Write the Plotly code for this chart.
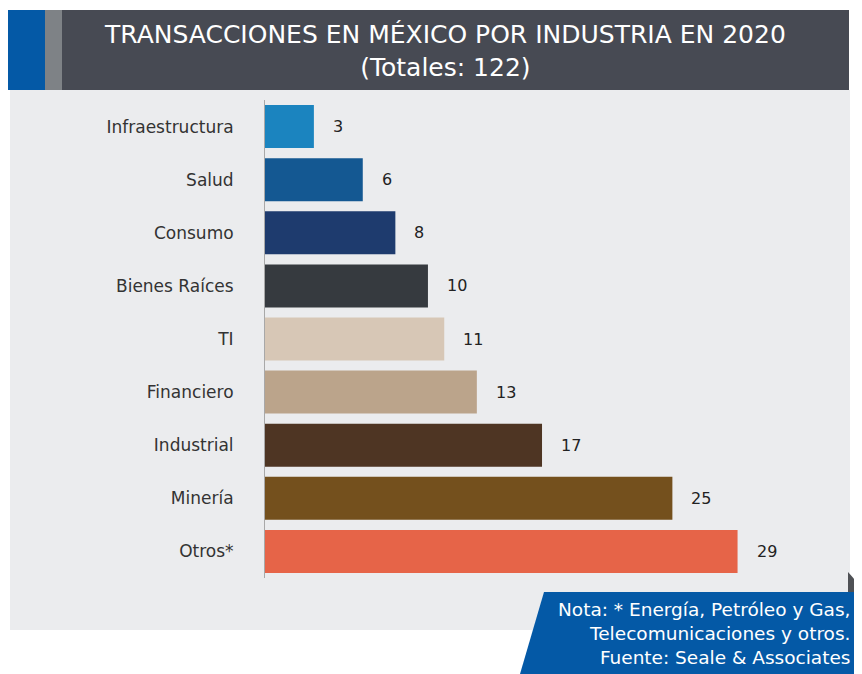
import plotly.graph_objects as go

categories = ["Infraestructura", "Salud", "Consumo", "Bienes Raíces", "TI",
              "Financiero", "Industrial", "Minería", "Otros*"]
values = [3, 6, 8, 10, 11, 13, 17, 25, 29]
colors = ["#1B84BF", "#145892", "#1E3B6E", "#363A3F", "#D7C7B6",
          "#BBA48B", "#4E3523", "#74501D", "#E66448"]
title_lines = ["TRANSACCIONES EN MÉXICO POR INDUSTRIA EN 2020", "(Totales: 122)"]
note_lines = ["Nota: * Energía, Petróleo y Gas,", "Telecomunicaciones y otros.",
              "Fuente: Seale & Associates"]

# page body has an 8px margin: figure origin sits at (8, 8) of the window
OFF = 8
W, H = 862 - OFF, 674 - OFF
FONT = "DejaVu Sans"


def px(x):
    return (x - OFF) / W


def py(y):
    return 1 - (y - OFF) / H


fig = go.Figure()
fig.add_trace(go.Bar(
    x=values, y=categories, orientation="h",
    marker=dict(color=colors, line=dict(width=0)),
    hoverinfo="x+y",
))

shapes = [
    dict(type="rect", xref="paper", yref="paper", x0=px(10), x1=px(850), y0=py(630), y1=py(90),
         fillcolor="#EBECEE", line=dict(width=0), layer="below"),
    dict(type="rect", xref="paper", yref="paper", x0=px(8), x1=px(45), y0=py(90), y1=py(10),
         fillcolor="#0459A6", line=dict(width=0)),
    dict(type="rect", xref="paper", yref="paper", x0=px(45), x1=px(62), y0=py(90), y1=py(10),
         fillcolor="#7E8286", line=dict(width=0)),
    dict(type="rect", xref="paper", yref="paper", x0=px(62), x1=px(849), y0=py(90), y1=py(10),
         fillcolor="#474A53", line=dict(width=0)),
    dict(type="path", xref="paper", yref="paper",
         path=f"M {px(848)},{py(572)} L {px(862)},{py(588)} L {px(862)},{py(594)} L {px(848)},{py(594)} Z",
         fillcolor="#4F5155", line=dict(width=0)),
    dict(type="path", xref="paper", yref="paper",
         path=f"M {px(544)},{py(592)} L {px(862)},{py(592)} L {px(862)},{py(674)} L {px(520)},{py(674)} Z",
         fillcolor="#0459A6", line=dict(width=0)),
]

annotations = [
    dict(text=title_lines[0] + "<br>" + title_lines[1], xref="paper", yref="paper",
         x=px(445), y=py(51), xanchor="center", yanchor="middle", showarrow=False,
         font=dict(family=FONT, size=25, color="#FFFFFF")),
    dict(text="<br>".join(note_lines), xref="paper", yref="paper", align="right",
         x=px(852), y=py(633), xanchor="right", yanchor="middle", showarrow=False,
         font=dict(family=FONT, size=18.5, color="#FFFFFF")),
]
for c, v in zip(categories, values):
    annotations.append(dict(x=v, y=c, xref="x", yref="y", text=str(v), showarrow=False,
                            xanchor="left", yanchor="middle", xshift=17,
                            font=dict(family=FONT, size=16, color="#222222")))

fig.update_layout(
    width=W, height=H,
    margin=dict(l=0, r=0, t=0, b=0),
    paper_bgcolor="#FFFFFF", plot_bgcolor="rgba(0,0,0,0)",
    showlegend=False, bargap=0.19,
    shapes=shapes, annotations=annotations,
    font=dict(family=FONT, size=17, color="#333333"),
    xaxis=dict(domain=[px(265), px(850)], range=[0, 35.9], visible=False, fixedrange=True),
    yaxis=dict(domain=[py(578), py(100)], autorange="reversed", showgrid=False,
               showline=True, linecolor="#A8A8A8", linewidth=1, ticks="",
               ticklabelstandoff=27, tickfont=dict(family=FONT, size=17, color="#333333"),
               fixedrange=True),
)

fig.write_html("out.html")
